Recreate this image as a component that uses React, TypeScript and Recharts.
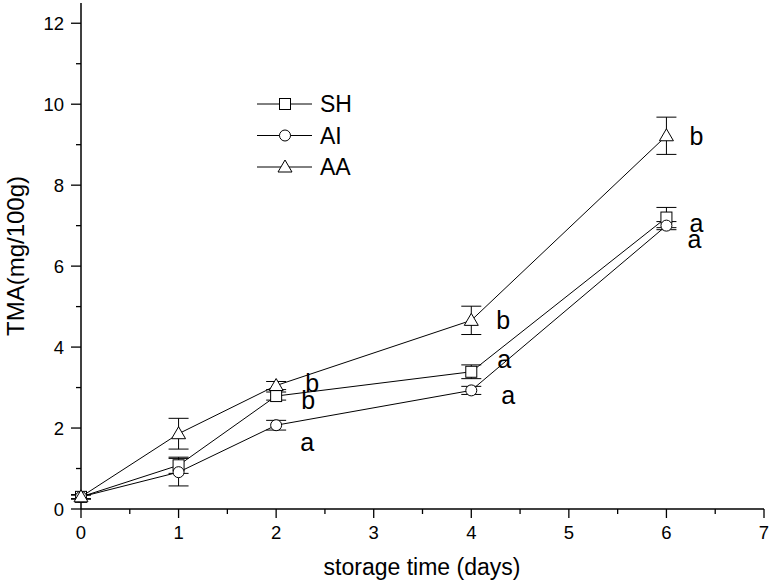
import React from 'react';
import { LineChart, Line, XAxis, YAxis, ErrorBar, LabelList, Label } from 'recharts';

const days = [0, 1, 2, 4, 6];
const shValues = [0.3, 1.08, 2.79, 3.39, 7.2];
const shErrors = [0.05, 0.2, 0.1, 0.17, 0.25];
const aiValues = [0.3, 0.91, 2.07, 2.93, 7.0];
const aiErrors = [0.05, 0.34, 0.12, 0.1, 0.1];
const aaValues = [0.3, 1.86, 3.05, 4.66, 9.22];
const aaErrors = [0.05, 0.38, 0.1, 0.35, 0.46];
const shLetters = ['', '', 'b', 'a', 'a'];
const aiLetters = ['', '', 'a', 'a', 'a'];
const aaLetters = ['', '', 'b', 'b', 'b'];
const xTicks = [0, 0.5, 1, 1.5, 2, 2.5, 3, 3.5, 4, 4.5, 5, 5.5, 6, 6.5, 7];
const yTicks = [0, 1, 2, 3, 4, 5, 6, 7, 8, 9, 10, 11, 12];

const data = days.map((d, i) => ({
  day: d,
  sh: shValues[i],
  shErr: shErrors[i],
  ai: aiValues[i],
  aiErr: aiErrors[i],
  aa: aaValues[i],
  aaErr: aaErrors[i],
}));

const font = '"Liberation Sans", Arial, sans-serif';

// pixel offsets of the significance letters from their points
const shOffsets = [[0, 0], [0, 0], [32, 4], [33, -13], [30, 5]];
const aiOffsets = [[0, 0], [0, 0], [31, 17], [37, 5], [28, 13]];
const aaOffsets = [[0, 0], [0, 0], [36, -3], [32, 0], [30, 0]];

const SquareDot = (props: any) => {
  const { cx, cy } = props;
  if (cx == null || cy == null) return null;
  return <rect x={cx - 5.5} y={cy - 5.5} width={11} height={11} fill="#fff" stroke="#000" strokeWidth={1} />;
};
const CircleDot = (props: any) => {
  const { cx, cy } = props;
  if (cx == null || cy == null) return null;
  return <circle cx={cx} cy={cy} r={5.5} fill="#fff" stroke="#000" strokeWidth={1} />;
};
const TriangleDot = (props: any) => {
  const { cx, cy } = props;
  if (cx == null || cy == null) return null;
  return (
    <polygon
      points={`${cx},${cy - 7} ${cx - 7},${cy + 5} ${cx + 7},${cy + 5}`}
      fill="#fff"
      stroke="#000"
      strokeWidth={1}
    />
  );
};

const XTick = (props: any) => {
  const { x, y, payload } = props;
  const major = Number.isInteger(payload.value);
  return (
    <g>
      <line x1={x} x2={x} y1={y} y2={y + (major ? 9 : 5)} stroke="#000" strokeWidth={1.3} />
      {major && (
        <text x={x} y={y + 23} textAnchor="middle" dominantBaseline="central" fontSize={18.5} fontFamily={font} fill="#000">
          {payload.value}
        </text>
      )}
    </g>
  );
};

const YTick = (props: any) => {
  const { x, y, payload } = props;
  const major = payload.value % 2 === 0;
  return (
    <g>
      <line x1={x - (major ? 10 : 5)} x2={x} y1={y} y2={y} stroke="#000" strokeWidth={1.3} />
      {major && (
        <text x={x - 17} y={y} textAnchor="end" dominantBaseline="central" fontSize={18.5} fontFamily={font} fill="#000">
          {payload.value}
        </text>
      )}
    </g>
  );
};

const letterLabel = (letters: string[], offsets: number[][]) => (props: any) => {
  const { x, y, index } = props;
  const t = letters[index];
  if (!t) return null;
  return (
    <text
      x={x + offsets[index][0]}
      y={y + offsets[index][1]}
      textAnchor="middle"
      dominantBaseline="central"
      fontSize={25}
      fontFamily={font}
      fill="#000"
    >
      {t}
    </text>
  );
};

const legendItems = [
  { name: 'SH', Dot: SquareDot },
  { name: 'AI', Dot: CircleDot },
  { name: 'AA', Dot: TriangleDot },
];

const LegendBox = () => (
  <svg width={130} height={100} style={{ position: 'absolute', left: 257, top: 92, overflow: 'visible' }}>
    {legendItems.map((it, i) => {
      const cy = 12 + i * 31.5;
      return (
        <g key={it.name}>
          <line x1={0} x2={55} y1={cy} y2={cy} stroke="#000" strokeWidth={1} />
          <it.Dot cx={28} cy={cy} />
          <text x={63} y={cy} dominantBaseline="central" fontSize={23} fontFamily={font} fill="#000">
            {it.name}
          </text>
        </g>
      );
    })}
  </svg>
);

export default function App() {
  return (
    <div style={{ position: 'absolute', left: 0, top: 0, width: 773, height: 582, background: '#fff' }}>
      <LineChart width={773} height={582} data={data} margin={{ top: 3, right: 9, left: 0, bottom: 0 }}>
        <XAxis
          dataKey="day"
          type="number"
          domain={[0, 7]}
          ticks={xTicks}
          interval={0}
          tick={<XTick />}
          tickLine={false}
          tickSize={0}
          tickMargin={0}
          height={73}
          axisLine={{ stroke: '#000', strokeWidth: 1.5 }}
        >
          <Label
            content={() => (
              <text x={422} y={567} textAnchor="middle" dominantBaseline="central" fontSize={23} fontFamily={font} fill="#000">
                storage time (days)
              </text>
            )}
          />
        </XAxis>
        <YAxis
          type="number"
          domain={[0, 12.5]}
          ticks={yTicks}
          interval={0}
          tick={<YTick />}
          tickLine={false}
          tickSize={0}
          tickMargin={0}
          width={81}
          axisLine={{ stroke: '#000', strokeWidth: 1.5 }}
        >
          <Label
            content={() => (
              <text
                x={15}
                y={256}
                textAnchor="middle"
                dominantBaseline="central"
                fontSize={24}
                fontFamily={font}
                fill="#000"
                transform="rotate(-90 15 256)"
              >
                TMA(mg/100g)
              </text>
            )}
          />
        </YAxis>
        <Line dataKey="sh" stroke="#000" strokeWidth={1} dot={<SquareDot />} activeDot={false} isAnimationActive={false}>
          <ErrorBar dataKey="shErr" direction="y" width={10} stroke="#000" strokeWidth={1} />
          <LabelList content={letterLabel(shLetters, shOffsets)} />
        </Line>
        <Line dataKey="ai" stroke="#000" strokeWidth={1} dot={<CircleDot />} activeDot={false} isAnimationActive={false}>
          <ErrorBar dataKey="aiErr" direction="y" width={10} stroke="#000" strokeWidth={1} />
          <LabelList content={letterLabel(aiLetters, aiOffsets)} />
        </Line>
        <Line dataKey="aa" stroke="#000" strokeWidth={1} dot={<TriangleDot />} activeDot={false} isAnimationActive={false}>
          <ErrorBar dataKey="aaErr" direction="y" width={10} stroke="#000" strokeWidth={1} />
          <LabelList content={letterLabel(aaLetters, aaOffsets)} />
        </Line>
      </LineChart>
      <LegendBox />
    </div>
  );
}
